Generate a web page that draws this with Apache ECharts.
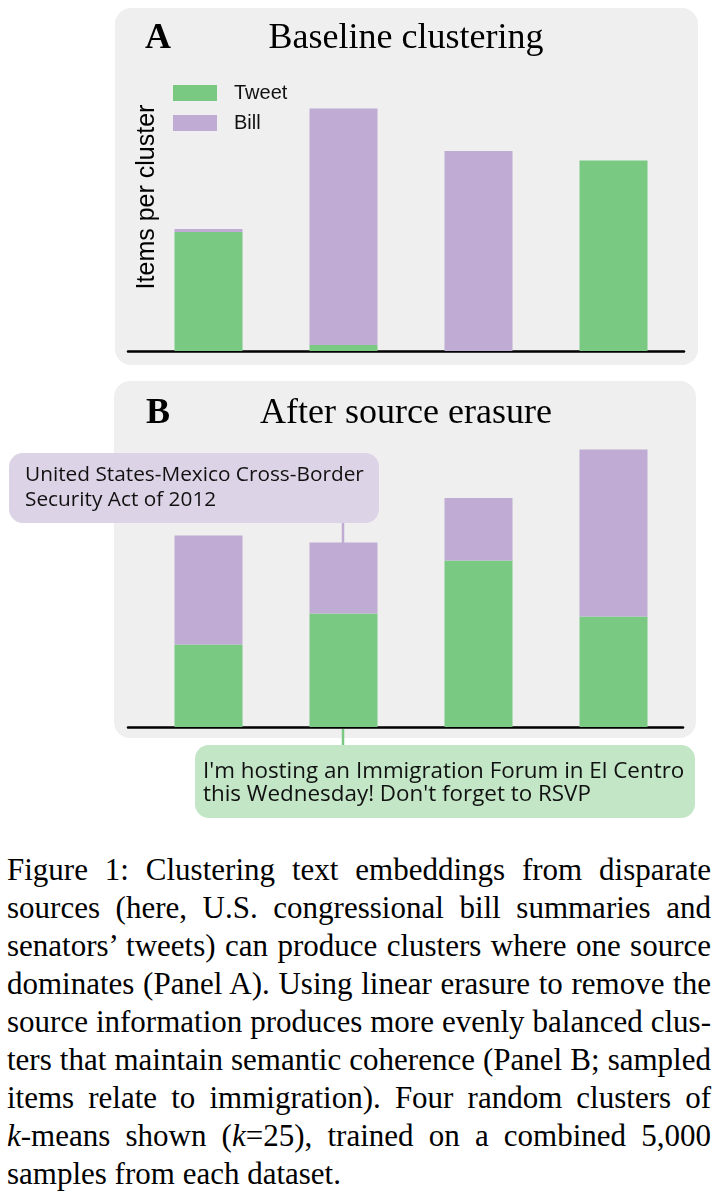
<!DOCTYPE html>
<html>
<head>
<meta charset="utf-8">
<script src="https://cdn.jsdelivr.net/npm/echarts@6/dist/echarts.min.js"></script>
<style>
  body { margin: 0; background: #fff; }
  #chart { width: 718px; height: 851px; }
  #caption {
    margin-left: 7px;
    width: 704px;
    font-family: 'Liberation Serif', serif;
    font-size: 31px;
    line-height: 38px;
    color: #000;
  }
  .ln { white-space: nowrap; }
</style>
</head>
<body>
<div id="chart"></div>
<div id="caption">
  <div class="ln"><span>Figure 1: Clustering text embeddings from disparate</span></div>
  <div class="ln"><span>sources (here, U.S. congressional bill summaries and</span></div>
  <div class="ln"><span>senators’ tweets) can produce clusters where one source</span></div>
  <div class="ln"><span>dominates (Panel A). Using linear erasure to remove the</span></div>
  <div class="ln"><span>source information produces more evenly balanced clus-</span></div>
  <div class="ln"><span>ters that maintain semantic coherence (Panel B; sampled</span></div>
  <div class="ln"><span>items relate to immigration). Four random clusters of</span></div>
  <div class="ln"><span><i>k</i>-means shown (<i>k</i>=25), trained on a combined 5,000</span></div>
  <div class="ln last"><span>samples from each dataset.</span></div>
</div>
<script>
// items per cluster (4 random k-means clusters)
var clusters = ['C1', 'C2', 'C3', 'C4'];
var baselineTweet = [238, 12, 0, 381];
var baselineBill = [6, 473, 400, 0];
var erasedTweet = [165, 227, 333, 221];
var erasedBill = [218, 142, 125, 334];
var sourceNames = ['Tweet', 'Bill'];

var GREEN = '#79c983';
var PURPLE = '#bfabd3';
var PANEL = '#efefef';

// justify the caption lines by hand (fixed line breaks as in the figure)
var lines = document.querySelectorAll('#caption .ln');
for (var i = 0; i < lines.length; i++) {
    if (lines[i].className.indexOf('last') >= 0) continue;
    var span = lines[i].firstChild;
    var natural = span.getBoundingClientRect().width;
    var gaps = span.textContent.split(' ').length - 1;
    if (gaps > 0) {
        span.style.wordSpacing = ((704 - natural) / gaps) + 'px';
    }
}

var dom = document.getElementById('chart');
var myChart = echarts.init(dom, null, { renderer: 'canvas' });

function hiddenCat(grid) {
    return {
        type: 'category', gridIndex: grid, data: clusters,
        axisLine: { show: false }, axisTick: { show: false },
        axisLabel: { show: false }, splitLine: { show: false }
    };
}
function hiddenVal(grid, max) {
    return {
        type: 'value', gridIndex: grid, min: 0, max: max,
        axisLine: { show: false }, axisTick: { show: false },
        axisLabel: { show: false }, splitLine: { show: false }
    };
}
// black baseline axis, a bit wider than the bar grid
function baseAxis(grid) {
    return {
        type: 'value', gridIndex: grid, min: 0, max: 1,
        axisLine: { show: true, onZero: false, lineStyle: { color: '#000', width: 2.5 } },
        axisTick: { show: false }, axisLabel: { show: false }, splitLine: { show: false }
    };
}
function barSeries(name, data, xi, stack, color) {
    return {
        name: name, type: 'bar', stack: stack, data: data,
        xAxisIndex: xi, yAxisIndex: xi, barWidth: 68,
        itemStyle: { color: color }, emphasis: { disabled: true }
    };
}

var option = {
    animation: false,
    legend: {
        data: sourceNames, orient: 'vertical', left: 173, top: 83,
        padding: 0, itemWidth: 44, itemHeight: 16, itemGap: 10, icon: 'rect',
        selectedMode: false,
        textStyle: { fontFamily: 'Liberation Sans', fontSize: 20, color: '#111', padding: [0, 0, 0, 12] }
    },
    grid: [
        { left: 141, width: 540, top: 101, height: 250 },
        { left: 141, width: 540, top: 427, height: 300 },
        { left: 128, width: 556, top: 101, height: 250 },
        { left: 128, width: 555, top: 427, height: 300 }
    ],
    xAxis: [hiddenCat(0), hiddenCat(1), baseAxis(2), baseAxis(3)],
    yAxis: [hiddenVal(0, 500), hiddenVal(1, 600), hiddenVal(2, 1), hiddenVal(3, 1)],
    series: [
        barSeries('Tweet', baselineTweet, 0, 'a', GREEN),
        barSeries('Bill', baselineBill, 0, 'a', PURPLE),
        barSeries('Tweet', erasedTweet, 1, 'b', GREEN),
        barSeries('Bill', erasedBill, 1, 'b', PURPLE)
    ],
    graphic: [
        // panel backgrounds
        { type: 'rect', z: -10, shape: { x: 115, y: 8, width: 583, height: 357, r: 16 }, style: { fill: PANEL } },
        { type: 'rect', z: -10, shape: { x: 114, y: 381, width: 582, height: 357, r: 16 }, style: { fill: PANEL } },
        // panel titles
        { type: 'text', x: 158, y: 39, style: { text: 'A', fontFamily: 'Liberation Serif', fontWeight: 'bold', fontSize: 36, fill: '#000', align: 'center', verticalAlign: 'middle' } },
        { type: 'text', x: 406, y: 39, style: { text: 'Baseline clustering', fontFamily: 'Liberation Serif', fontSize: 36, fill: '#000', align: 'center', verticalAlign: 'middle' } },
        { type: 'text', x: 158, y: 414, style: { text: 'B', fontFamily: 'Liberation Serif', fontWeight: 'bold', fontSize: 36, fill: '#000', align: 'center', verticalAlign: 'middle' } },
        { type: 'text', x: 406, y: 414, style: { text: 'After source erasure', fontFamily: 'Liberation Serif', fontSize: 36, fill: '#000', align: 'center', verticalAlign: 'middle' } },
        // y axis name
        { type: 'text', x: 147, y: 197, rotation: Math.PI / 2, style: { text: 'Items per cluster', fontFamily: 'Liberation Sans', fontSize: 25, fill: '#000', align: 'center', verticalAlign: 'middle' } },
        // bill annotation
        { type: 'line', z: 5, shape: { x1: 343, y1: 522, x2: 343, y2: 543 }, style: { stroke: PURPLE, lineWidth: 2.5 } },
        { type: 'rect', z: 6, shape: { x: 9, y: 453, width: 370, height: 70, r: 14 }, style: { fill: '#ddd3e6' } },
        { type: 'text', z: 7, x: 25, y: 475, style: { text: 'United States-Mexico Cross-Border', fontFamily: 'Open Sans', fontSize: 20.8, fill: '#111', align: 'left', verticalAlign: 'middle' } },
        { type: 'text', z: 7, x: 25, y: 500, style: { text: 'Security Act of 2012', fontFamily: 'Open Sans', fontSize: 20.8, fill: '#111', align: 'left', verticalAlign: 'middle' } },
        // tweet annotation
        { type: 'line', z: 5, shape: { x1: 343, y1: 729, x2: 343, y2: 746 }, style: { stroke: GREEN, lineWidth: 2.5 } },
        { type: 'rect', z: 6, shape: { x: 195, y: 745, width: 500, height: 73, r: 14 }, style: { fill: '#c3e6c7' } },
        { type: 'text', z: 7, x: 203, y: 772, style: { text: "I'm hosting an Immigration Forum in El Centro", fontFamily: 'Open Sans', fontSize: 22.4, fill: '#111', align: 'left', verticalAlign: 'middle' } },
        { type: 'text', z: 7, x: 203, y: 795, style: { text: "this Wednesday! Don't forget to RSVP", fontFamily: 'Open Sans', fontSize: 22.4, fill: '#111', align: 'left', verticalAlign: 'middle' } }
    ]
};

myChart.setOption(option);
</script>
</body>
</html>
